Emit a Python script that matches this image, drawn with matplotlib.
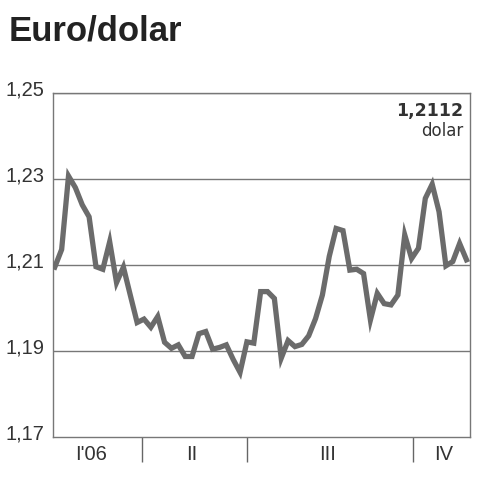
import numpy as np
import matplotlib
matplotlib.use('Agg')
import matplotlib.pyplot as plt
from matplotlib.transforms import offset_copy

# euro/dollar rate 2006
kurs = [1.2095, 1.2136, 1.2307, 1.2280, 1.2240, 1.2212, 1.2096, 1.2090, 1.2154, 1.2059,
        1.2095, 1.2030, 1.1966, 1.1974, 1.1955, 1.1980, 1.1920, 1.1906, 1.1914, 1.1887,
        1.1887, 1.1940, 1.1945, 1.1904, 1.1908, 1.1914, 1.1880, 1.1850, 1.1921, 1.1918,
        1.2038, 1.2038, 1.2022, 1.1883, 1.1924, 1.1910, 1.1915, 1.1935, 1.1975, 1.2030,
        1.2120, 1.2185, 1.2180, 1.2088, 1.2090, 1.2080, 1.1972, 1.2034, 1.2010, 1.2007,
        1.2030, 1.2170, 1.2115, 1.2139, 1.2255, 1.2288, 1.2224, 1.2098, 1.2108, 1.2150,
        1.2112]
yticks = [1.17, 1.19, 1.21, 1.23, 1.25]
ytick_labels = ['1,17', '1,19', '1,21', '1,23', '1,25']
kwartaly = ["I'06", 'II', 'III', 'IV']
kwartal_srodek = [5.25, 20.0, 39.7, 56.6]
kwartal_granice = [12.7, 28.0, 52.2]
ostatni = '1,2112'

grey = '#6b6b6b'
fig = plt.figure(figsize=(4.8, 4.8), dpi=100)
ax = fig.add_axes([0.110, 0.090, 0.869, 0.716])

x = np.arange(len(kurs))
ax.plot(x, kurs, color=grey, lw=3.8, solid_joinstyle='miter', zorder=3)

ax.set_xlim(-0.29, 60.5)
ax.set_ylim(1.17, 1.25)
for v in yticks[1:]:
    ax.axhline(v, color='#777777', lw=1.0, zorder=1)
for s in ax.spines.values():
    s.set_color('#777777')
    s.set_linewidth(1.0)

# y labels sit a little above their lines
ax.set_yticks(yticks)
ax.set_yticklabels([])
ax.tick_params(axis='y', length=0)
ytrans = offset_copy(ax.get_yaxis_transform(), fig=fig, x=-8, y=3, units='dots')
for v, lab in zip(yticks, ytick_labels):
    ax.text(0, v, lab, transform=ytrans, ha='right', va='center',
            family='Liberation Sans', fontsize=14.5, color='#333333')

ax.set_xticks(kwartal_granice)
ax.set_xticklabels([])
ax.tick_params(axis='x', length=18, width=1.0, color='#666666', direction='out')
for xc, lab in zip(kwartal_srodek, kwartaly):
    ax.text(xc, -0.052, lab, transform=ax.get_xaxis_transform(), ha='center', va='center',
            family='Liberation Sans', fontsize=14.5, color='#333333')

ax.text(0.985, 0.975, ostatni, transform=ax.transAxes, ha='right', va='top',
        fontsize=12.5, fontweight='bold', color='#333333')
ax.text(0.985, 0.915, 'dolar', transform=ax.transAxes, ha='right', va='top',
        fontsize=12, color='#333333')

fig.text(0.017, 0.935, 'Euro/dolar', ha='left', va='center', family='Liberation Sans',
         fontsize=25, fontweight='bold', color='#222222')

fig.savefig('out.png', dpi=100, facecolor='white')
